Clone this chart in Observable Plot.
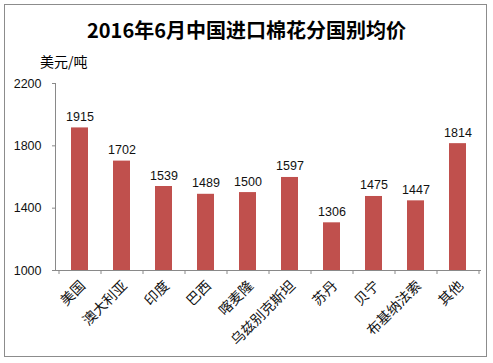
<!DOCTYPE html>
<html><head><meta charset="utf-8">
<script src="https://cdn.jsdelivr.net/npm/d3@7"></script>
<script src="https://cdn.jsdelivr.net/npm/@observablehq/plot@0.6"></script>
<style>
body{margin:0;background:#fff;}
#wrap{position:relative;width:493px;height:363px;overflow:hidden;background:#fff;}
#frame{position:absolute;left:4px;top:4px;width:483px;height:353px;border:1.5px solid #8c8c8c;box-sizing:border-box;pointer-events:none;}
#title{position:absolute;left:0;width:493px;top:16px;text-align:center;font:bold 20px "Noto Sans CJK SC",sans-serif;color:#000;line-height:28px;}
#unit{position:absolute;left:40px;top:51px;font:14px "Noto Sans CJK SC",sans-serif;color:#000;line-height:20px;}
#chart{position:absolute;left:0;top:0;}
</style></head>
<body>
<div id="wrap">
  <div id="chart"></div>
  <div id="title">2016年6月中国进口棉花分国别均价</div>
  <div id="unit">美元/吨</div>
  <div id="frame"></div>
</div>
<script>
const countries = ["美国","澳大利亚","印度","巴西","喀麦隆","乌兹别克斯坦","苏丹","贝宁","布基纳法索","其他"];
const prices = [1915,1702,1539,1489,1500,1597,1306,1475,1447,1814];
const yTicks = [1000,1400,1800,2200];

const data = countries.map((c,i)=>({country:c, value:prices[i]}));
const yMin = yTicks[0], yMax = yTicks[yTicks.length-1];
const axisColor = "#898989";

function axisLines(index, scales, values, dims) {
  const {x} = scales;
  const g = d3.create("svg:g").attr("stroke", axisColor).attr("stroke-width", 1).attr("fill","none");
  const x0 = dims.marginLeft, x1 = dims.width - dims.marginRight;
  const yb = dims.height - dims.marginBottom, yt = dims.marginTop;
  g.append("line").attr("x1",x0+0.5).attr("x2",x0+0.5).attr("y1",yt).attr("y2",yb);
  g.append("line").attr("x1",x0).attr("x2",x1).attr("y1",yb+0.5).attr("y2",yb+0.5);
  const step = x.step(), off = (step - x.bandwidth())/2;
  const bounds = x.domain().map(d => x(d) - off);
  bounds.push(bounds[bounds.length-1] + step);
  for (const b of bounds) {
    g.append("line").attr("x1",b+0.5).attr("x2",b+0.5).attr("y1",yb).attr("y2",yb+4);
  }
  return g.node();
}

const chart = Plot.plot({
  width: 493,
  height: 363,
  marginLeft: 55,
  marginRight: 12,
  marginTop: 83,
  marginBottom: 93,
  style: {background: "transparent", overflow: "visible"},
  x: {domain: countries, paddingInner: 0.6, paddingOuter: 0.3, label: null},
  y: {domain: [yMin, yMax], label: null},
  marks: [
    Plot.barY(data, {x: "country", y1: yMin, y2: "value", fill: "#C0504D"}),
    Plot.text(data, {x: "country", y: "value", text: d => String(d.value), dy: -7, lineAnchor: "bottom",
      fontSize: 12.5, fontFamily: "Liberation Sans, Arial, sans-serif", fill: "#111"}),
    Plot.axisY({ticks: yTicks, tickSize: 3, tickPadding: 11, stroke: axisColor, fontSize: 12.5,
      fontFamily: "Liberation Sans, Arial, sans-serif", fill: "#111", tickFormat: d => String(d)}),
    Plot.axisX({tickSize: 0, tickPadding: 13, dx: 3, tickRotate: -45, fontSize: 14,
      fontFamily: "Noto Sans CJK SC, sans-serif", fill: "#111"}),
    axisLines
  ]
});
document.getElementById("chart").appendChild(chart);
</script>
</body></html>
